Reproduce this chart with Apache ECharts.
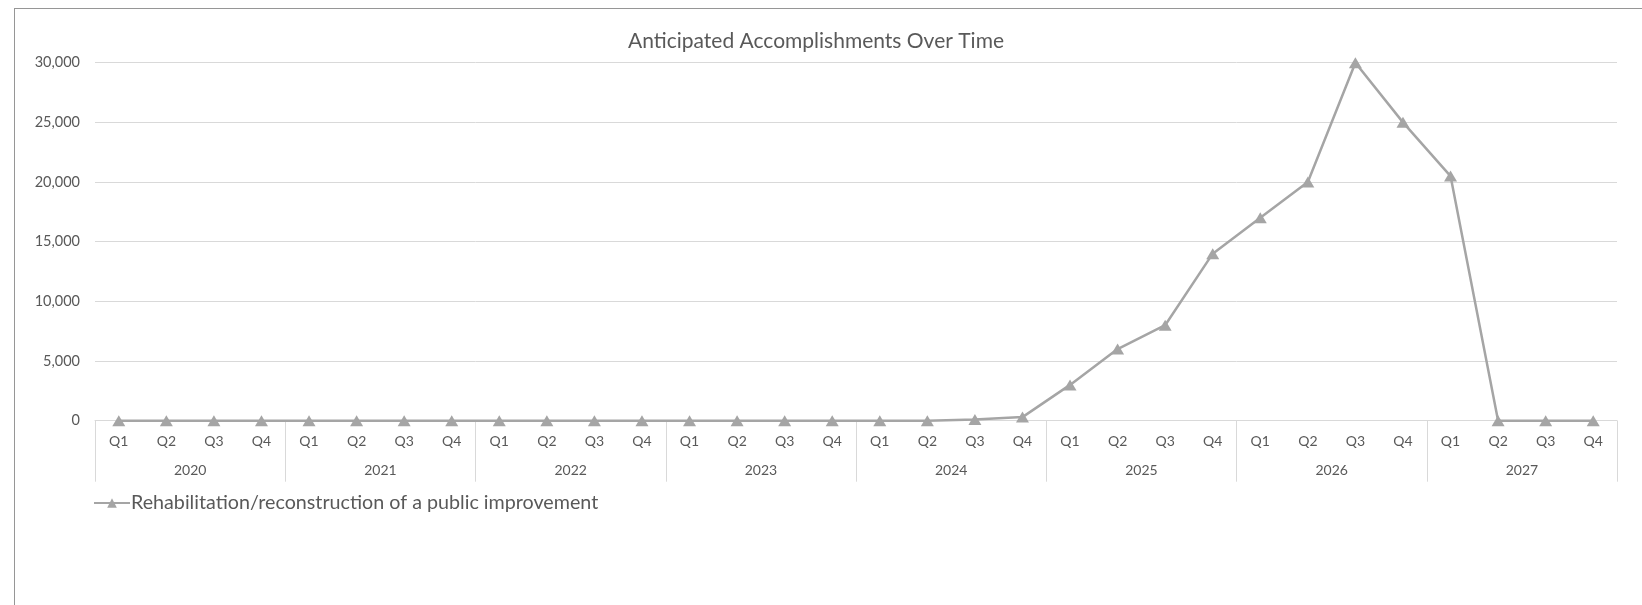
<!DOCTYPE html>
<html>
<head>
<meta charset="utf-8">
<script src="https://cdn.jsdelivr.net/npm/echarts@6/dist/echarts.min.js"></script>
<style>
  html, body { margin: 0; padding: 0; background: #ffffff; }
  #frame { position: absolute; left: 14px; top: 8px; right: -2px; bottom: -2px; border-left: 1px solid #969696; border-top: 1px solid #969696; }
  #chart { position: absolute; left: 0; top: 0; width: 1642px; height: 605px; }
</style>
</head>
<body>
<div id="frame"></div>
<div id="chart"></div>
<script>
const years = ['2020', '2021', '2022', '2023', '2024', '2025', '2026', '2027'];
const quarters = ['Q1', 'Q2', 'Q3', 'Q4'];
const seriesName = 'Rehabilitation/reconstruction of a public improvement';
const values2020 = [0, 0, 0, 0];
const values2021 = [0, 0, 0, 0];
const values2022 = [0, 0, 0, 0];
const values2023 = [0, 0, 0, 0];
const values2024 = [0, 0, 100, 300];
const values2025 = [3000, 6000, 8000, 14000];
const values2026 = [17000, 20000, 30000, 25000];
const values2027 = [20500, 0, 0, 0];
const yTicks = { min: 0, max: 30000, interval: 5000 };

const values = [].concat(values2020, values2021, values2022, values2023, values2024, values2025, values2026, values2027);
const categories = [];
years.forEach(y => quarters.forEach(q => categories.push(q)));

const FONT = 'Lato';
const TXT = '#595959';
const GRIDC = '#D9D9D9';
const LINEC = '#A5A5A5';
const gridPos = { left: 95, right: 25, top: 62.7, bottom: 184.3 };

const chart = echarts.init(document.getElementById('chart'), null, { renderer: 'canvas' });
chart.setOption({
  animation: false,
  backgroundColor: 'transparent',
  title: {
    text: 'Anticipated Accomplishments Over Time',
    left: 811, top: 26, textAlign: 'center',
    textStyle: { fontFamily: FONT, fontSize: 21, fontWeight: 'normal', color: TXT }
  },
  legend: {
    left: 88, top: 488,
    itemWidth: 36, itemHeight: 12, itemGap: 10,
    textStyle: { fontFamily: FONT, fontSize: 19.7, color: TXT, padding: [0, 0, 0, -4] },
    data: [seriesName]
  },
  grid: [
    Object.assign({}, gridPos),
    Object.assign({}, gridPos)
  ],
  xAxis: [
    {
      type: 'category', gridIndex: 0, data: categories, boundaryGap: true,
      axisLine: { show: true, lineStyle: { color: GRIDC, width: 1 } },
      axisTick: { show: false },
      axisLabel: { color: TXT, fontFamily: FONT, fontSize: 14, margin: 14, interval: 0 },
      splitLine: { show: false }
    },
    {
      type: 'category', gridIndex: 1, data: years, boundaryGap: true, position: 'bottom',
      axisLine: { show: false },
      axisTick: { show: true, length: 61, lineStyle: { color: GRIDC, width: 1 }, interval: 0 },
      axisLabel: { color: TXT, fontFamily: FONT, fontSize: 14, margin: 43, interval: 0 },
      splitLine: { show: false }
    }
  ],
  yAxis: [
    {
      type: 'value', gridIndex: 0, min: yTicks.min, max: yTicks.max, interval: yTicks.interval,
      axisLine: { show: false }, axisTick: { show: false },
      axisLabel: {
        color: TXT, fontFamily: FONT, fontSize: 14.5, margin: 15,
        formatter: v => v.toLocaleString('en-US')
      },
      splitLine: { show: true, lineStyle: { color: GRIDC, width: 1 } }
    },
    {
      type: 'value', gridIndex: 1, min: yTicks.min, max: yTicks.max,
      show: false, splitLine: { show: false }
    }
  ],
  series: [{
    name: seriesName,
    type: 'line',
    xAxisIndex: 0, yAxisIndex: 0,
    data: values,
    symbol: 'triangle',
    symbolSize: [13, 11],
    showAllSymbol: true,
    lineStyle: { color: LINEC, width: 2.5 },
    itemStyle: { color: LINEC, borderWidth: 0 },
    z: 3
  }]
});
</script>
</body>
</html>
